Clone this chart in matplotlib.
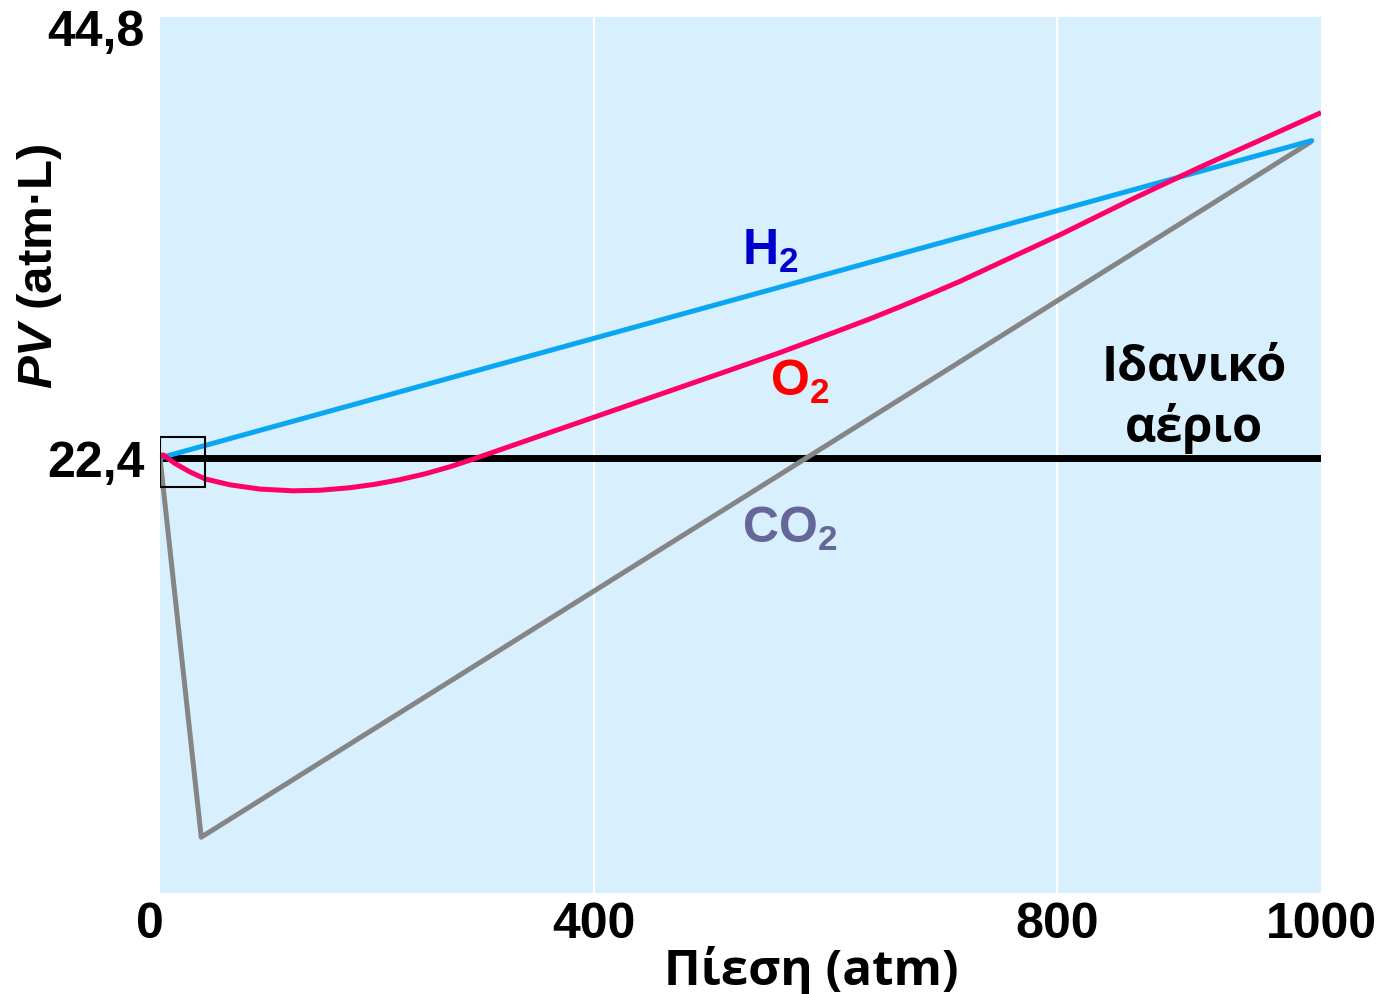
import numpy as np
import matplotlib
matplotlib.use("Agg")
import matplotlib.pyplot as plt
from matplotlib.patches import Rectangle
import matplotlib.transforms as mtransforms

# ---------------- data ----------------
ideal_x = [0, 1000]
ideal_y = [22.4, 22.4]

h2_x = [0, 993]
h2_y = [22.4, 38.88]

co2_x = [0, 38, 992]
co2_y = [22.4, 2.7, 38.8]

o2_x = [0, 2.8, 13.8, 27.7, 41.5, 64.5, 92.2, 122.6, 147.5, 175.1, 198.2, 221.2, 244.2, 267.3,
        285.7, 313.4, 354.8, 400.9, 439.7, 474.3, 517.5, 560.7, 612.5, 638.4, 664.4, 690.3,
        716.2, 750.8, 802.3, 857.6, 908.3, 953.8, 1000]
o2_y = [22.45, 22.56, 22.11, 21.67, 21.31, 21.00, 20.78, 20.69, 20.72, 20.85, 21.03, 21.27,
        21.57, 21.94, 22.28, 22.82, 23.63, 24.53, 25.34, 26.06, 26.96, 27.87, 29.03, 29.62,
        30.25, 30.90, 31.57, 32.54, 33.99, 35.86, 37.50, 38.90, 40.33]

x_ticks = [0, 400, 800, 1000]
x_ticklabels = ["0", "400", "800", "1000"]
y_ticks = [22.4, 44.8]
y_ticklabels = ["22,4", "44,8"]

# axis drawn with uneven spacing in the original
scale_data = [0, 400, 800, 1000]
scale_pos = [0, 434, 897, 1161]

# ---------------- style ----------------
plt.rcParams['mathtext.fontset'] = 'custom'
plt.rcParams['mathtext.rm'] = 'Liberation Sans:bold'
plt.rcParams['mathtext.bf'] = 'Liberation Sans:bold'
plt.rcParams['mathtext.it'] = 'Liberation Sans:italic:bold'

NUMFONT = 'Liberation Sans'
GRFONT = 'Open Sans'

W, H = 1382, 995
fig = plt.figure(figsize=(W / 100, H / 100), dpi=100)
ax = fig.add_axes([160 / W, 1 - 894 / H, (1321 - 160) / W, (894 - 18) / H])
ax.set_facecolor('#D8F0FD')


def fwd(x):
    x = np.asarray(x, dtype=float)
    s = (scale_pos[-1] - scale_pos[-2]) / (scale_data[-1] - scale_data[-2])
    s0 = (scale_pos[1] - scale_pos[0]) / (scale_data[1] - scale_data[0])
    out = np.interp(x, scale_data, scale_pos)
    out = np.where(x > scale_data[-1], scale_pos[-1] + (x - scale_data[-1]) * s, out)
    out = np.where(x < scale_data[0], scale_pos[0] + (x - scale_data[0]) * s0, out)
    return out


def inv(p):
    p = np.asarray(p, dtype=float)
    s = (scale_data[-1] - scale_data[-2]) / (scale_pos[-1] - scale_pos[-2])
    s0 = (scale_data[1] - scale_data[0]) / (scale_pos[1] - scale_pos[0])
    out = np.interp(p, scale_pos, scale_data)
    out = np.where(p > scale_pos[-1], scale_data[-1] + (p - scale_pos[-1]) * s, out)
    out = np.where(p < scale_pos[0], scale_data[0] + (p - scale_pos[0]) * s0, out)
    return out


ax.set_xscale('function', functions=(fwd, inv))
ax.set_xlim(0, 1000)
ax.set_ylim(-0.2, 45.3)

for g in (400, 800):
    ax.axvline(g, color='white', lw=1.6, zorder=1)

ax.plot(ideal_x, ideal_y, color='black', lw=5.0, zorder=2, solid_capstyle='butt')
ax.plot(co2_x, co2_y, color='#858585', lw=3.6, zorder=3, solid_capstyle='round', solid_joinstyle='round')
ax.plot(h2_x, h2_y, color='#09A6F3', lw=3.6, zorder=4, solid_capstyle='round')
ax.plot(o2_x, o2_y, color='#FF0066', lw=3.6, zorder=5, solid_capstyle='butt', solid_joinstyle='round')

ax.add_patch(Rectangle((0, 20.89), 41.5, 2.6, fill=False, edgecolor='black', lw=1.5, zorder=6))

ax.set_xticks(x_ticks)
ax.set_xticklabels(x_ticklabels)
ax.set_yticks(y_ticks)
ax.set_yticklabels(y_ticklabels)
ax.tick_params(axis='both', length=0)
ax.tick_params(axis='y', pad=11)
ax.tick_params(axis='x', pad=6)
for lab in ax.get_xticklabels() + ax.get_yticklabels():
    lab.set_fontfamily(NUMFONT)
    lab.set_fontweight('bold')
    lab.set_fontsize(36)
# shift the "0" label left like the original
lab0 = ax.get_xticklabels()[0]
lab0.set_transform(lab0.get_transform() + mtransforms.ScaledTranslation(-10 / 100, 0, fig.dpi_scale_trans))

for s in ax.spines.values():
    s.set_visible(False)

# gas labels
ax.text(528, 32.48, r"H$_{2}$", color='#0000CC', fontsize=36, fontfamily=NUMFONT,
        fontweight='bold', ha='left', va='baseline', zorder=7)
ax.text(552, 25.67, r"O$_{2}$", color='#FF0000', fontsize=36, fontfamily=NUMFONT,
        fontweight='bold', ha='left', va='baseline', zorder=7)
ax.text(528, 18.03, r"CO$_{2}$", color='#666699', fontsize=36, fontfamily=NUMFONT,
        fontweight='bold', ha='left', va='baseline', zorder=7)

ax.text(904, 26.45, "Ιδανικό", color='black', fontsize=35, fontfamily=GRFONT,
        fontweight='bold', ha='center', va='baseline', zorder=7)
ax.text(904, 23.28, "αέριο", color='black', fontsize=35, fontfamily=GRFONT,
        fontweight='bold', ha='center', va='baseline', zorder=7)

# axis titles
fig.text(811 / W, 1 - 985 / H, "Πίεση (atm)", fontsize=35.5, fontfamily=GRFONT,
         fontweight='bold', ha='center', va='baseline')
fig.text(40 / W, 1 - 266 / H, r"$PV$ (atm·L)", fontsize=35.5, fontfamily=NUMFONT,
         fontweight='bold', ha='center', va='center', rotation=90)

fig.savefig('out.png', dpi=100, facecolor='white')
